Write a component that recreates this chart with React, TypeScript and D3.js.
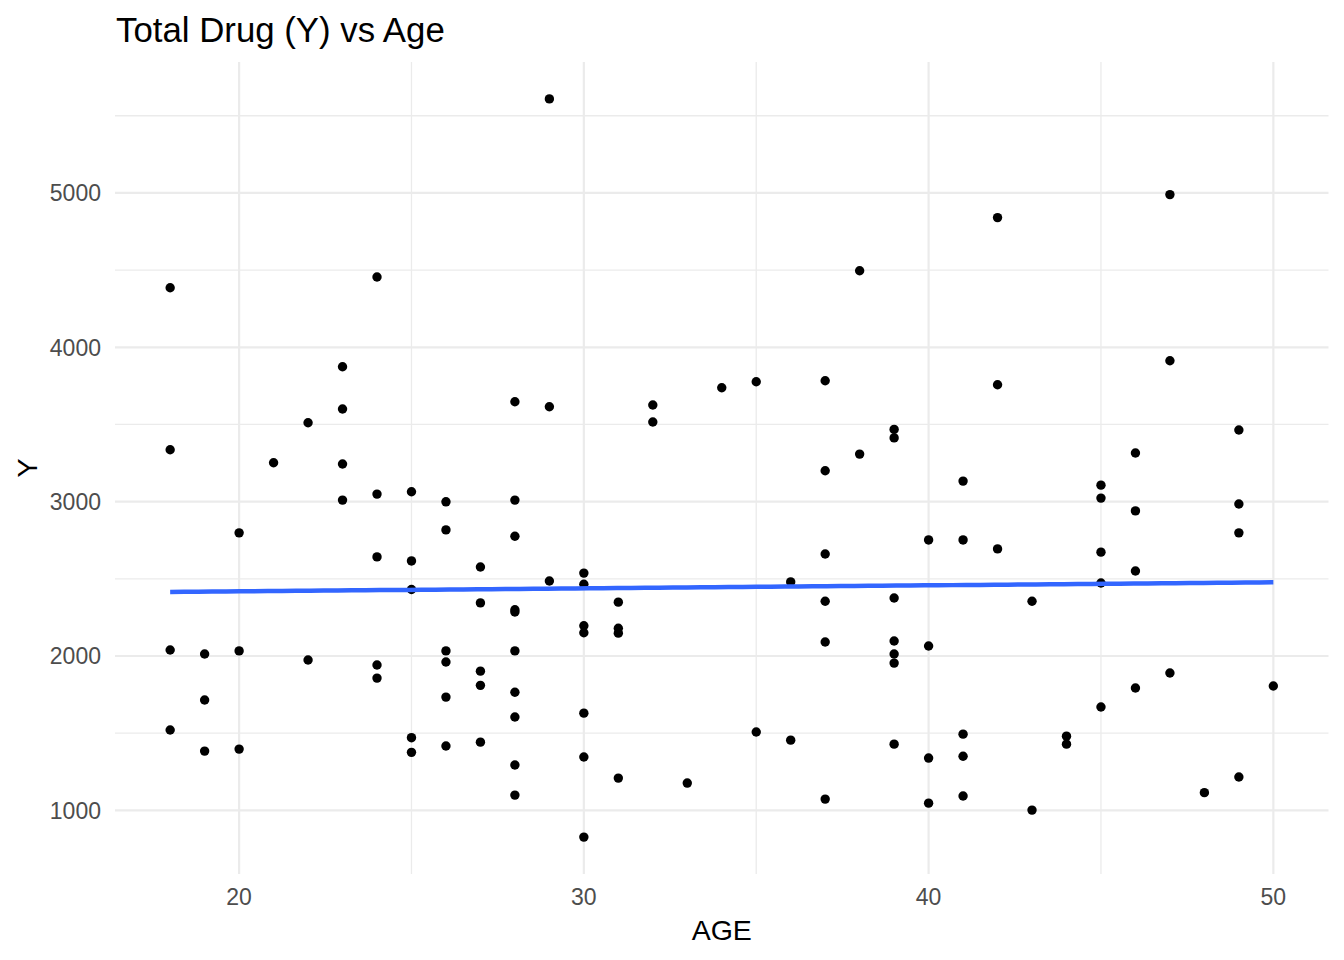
import React from "react";
import * as d3 from "d3";

const ages: number[] = [
  18, 18, 18, 18,
  19, 19, 19,
  20, 20, 20,
  21,
  22, 22,
  23, 23, 23, 23,
  24, 24, 24, 24, 24,
  25, 25, 25, 25, 25,
  26, 26, 26, 26, 26, 26,
  27, 27, 27, 27, 27,
  28, 28, 28, 28, 28, 28, 28, 28, 28, 28,
  29, 29, 29,
  30, 30, 30, 30, 30, 30, 30,
  31, 31, 31, 31,
  32, 32,
  33,
  34,
  35, 35,
  36, 36,
  37, 37, 37, 37, 37, 37,
  38, 38,
  39, 39, 39, 39, 39, 39, 39,
  40, 40, 40, 40,
  41, 41, 41, 41, 41,
  42, 42, 42,
  43, 43,
  44, 44,
  45, 45, 45, 45, 45,
  46, 46, 46, 46,
  47, 47, 47,
  48,
  49, 49, 49, 49,
  50,
];

const drugY: number[] = [
  4386, 3336, 2039, 1521,
  2013, 1715, 1384,
  2798, 2033, 1397,
  3252,
  3511, 1974,
  3874, 3600, 3244, 3010,
  4455, 3049, 2642, 1942, 1857,
  3064, 2616, 2431, 1471, 1376,
  2999, 2817, 2033, 1961, 1734, 1417,
  2577, 2344, 1902, 1810, 1442,
  3647, 3010, 2776, 2300, 2285, 2033, 1765, 1605, 1294, 1099,
  5609, 3615, 2486,
  2537, 2465, 2196, 2151, 1630, 1346, 827,
  2349, 2180, 2148, 1209,
  3626, 3516,
  1177,
  3738,
  3777, 1508,
  2480, 1455,
  3783, 3200, 2661, 2355, 2091, 1073,
  4496, 3308,
  3468, 3413, 2376, 2097, 2013, 1954, 1429,
  2752, 2065, 1339, 1047,
  3133, 2752, 1494, 1351, 1093,
  4840, 3757, 2694,
  2355, 1002,
  1481, 1429,
  3107, 3023, 2673, 2473, 1670,
  3315, 2940, 2551, 1793,
  4989, 3913, 1890,
  1115,
  3464, 2985, 2798, 1216,
  1806,
];

const xMajorTicks: number[] = [20, 30, 40, 50];
const xMinorTicks: number[] = [25, 35, 45];
const yMajorTicks: number[] = [1000, 2000, 3000, 4000, 5000];
const yMinorTicks: number[] = [1500, 2500, 3500, 4500, 5500];

const titleText = "Total Drug (Y) vs Age";
const xTitle = "AGE";
const yTitle = "Y";

const W = 1344;
const H = 960;
const panel = { left: 115, right: 1328.5, top: 62, bottom: 874 };

function expand(ext: [number, number], f = 0.05): [number, number] {
  const d = (ext[1] - ext[0]) * f;
  return [ext[0] - d, ext[1] + d];
}

export default function App() {
  const xExt = d3.extent(ages) as [number, number];
  const yExt = d3.extent(drugY) as [number, number];
  const x = d3.scaleLinear().domain(expand(xExt)).range([panel.left, panel.right]);
  const y = d3.scaleLinear().domain(expand(yExt)).range([panel.bottom, panel.top]);

  // least squares fit (geom_smooth method = "lm")
  const mx = d3.mean(ages) as number;
  const my = d3.mean(drugY) as number;
  let sxy = 0;
  let sxx = 0;
  ages.forEach((a, i) => {
    sxy += (a - mx) * (drugY[i] - my);
    sxx += (a - mx) * (a - mx);
  });
  const slope = sxy / sxx;
  const intercept = my - slope * mx;
  const fitXs = d3.range(0, 80).map((i) => xExt[0] + ((xExt[1] - xExt[0]) * i) / 79);
  const line = d3
    .line<number>()
    .x((d) => x(d))
    .y((d) => y(intercept + slope * d));

  const font = "Arial, 'Liberation Sans', sans-serif";

  return (
    <svg
      width={W}
      height={H}
      style={{ position: "absolute", left: 0, top: 0, background: "#fff" }}
      fontFamily={font}
    >
      <rect x={0} y={0} width={W} height={H} fill="#fff" />
      {/* minor grid */}
      {xMinorTicks.map((t) => (
        <line key={"xm" + t} x1={x(t)} x2={x(t)} y1={panel.top} y2={panel.bottom} stroke="#EBEBEB" strokeWidth={1.3} />
      ))}
      {yMinorTicks.map((t) => (
        <line key={"ym" + t} x1={panel.left} x2={panel.right} y1={y(t)} y2={y(t)} stroke="#EBEBEB" strokeWidth={1.3} />
      ))}
      {/* major grid */}
      {xMajorTicks.map((t) => (
        <line key={"xM" + t} x1={x(t)} x2={x(t)} y1={panel.top} y2={panel.bottom} stroke="#EBEBEB" strokeWidth={2.2} />
      ))}
      {yMajorTicks.map((t) => (
        <line key={"yM" + t} x1={panel.left} x2={panel.right} y1={y(t)} y2={y(t)} stroke="#EBEBEB" strokeWidth={2.2} />
      ))}
      {/* points */}
      {ages.map((a, i) => (
        <circle key={"p" + i} cx={x(a)} cy={y(drugY[i])} r={4.7} fill="#000" />
      ))}
      {/* fit line */}
      <path d={line(fitXs) || ""} fill="none" stroke="#3366FF" strokeWidth={4.5} />
      {/* x tick labels */}
      {xMajorTicks.map((t) => (
        <text key={"xl" + t} x={x(t)} y={905} textAnchor="middle" fontSize={23} fill="#4D4D4D">
          {t}
        </text>
      ))}
      {/* y tick labels */}
      {yMajorTicks.map((t) => (
        <text key={"yl" + t} x={101} y={y(t) + 8.3} textAnchor="end" fontSize={23} fill="#4D4D4D">
          {t}
        </text>
      ))}
      {/* axis titles */}
      <text x={(panel.left + panel.right) / 2} y={940} textAnchor="middle" fontSize={28.5} fill="#000">
        {xTitle}
      </text>
      <text
        transform={`translate(37, ${(panel.top + panel.bottom) / 2}) rotate(-90)`}
        textAnchor="middle"
        fontSize={28.5}
        fill="#000"
      >
        {yTitle}
      </text>
      {/* title */}
      <text x={116} y={42} fontSize={34.8} fill="#000">
        {titleText}
      </text>
    </svg>
  );
}
